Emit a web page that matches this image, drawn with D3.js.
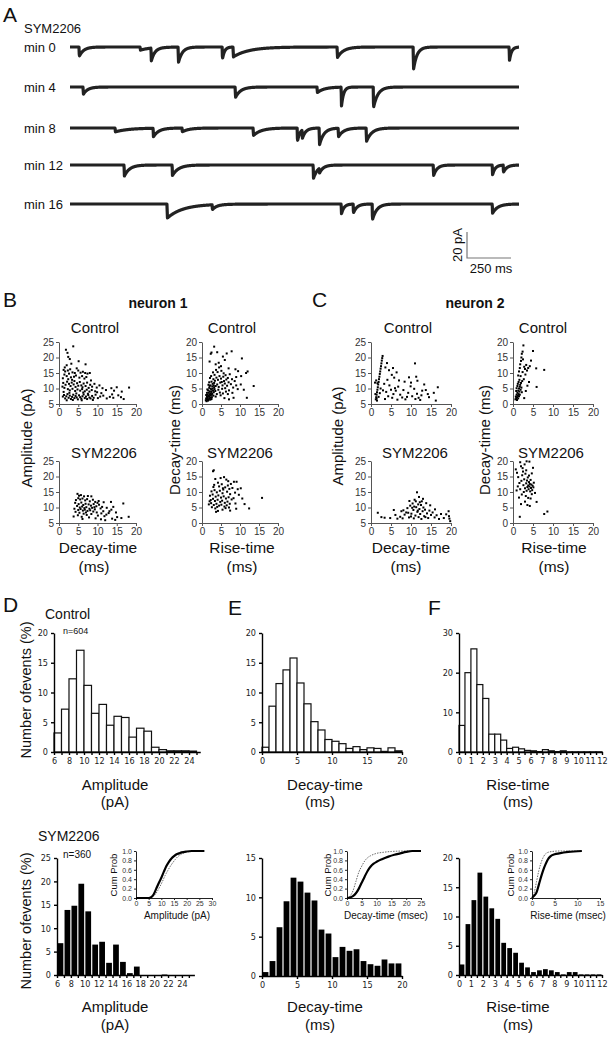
<!DOCTYPE html>
<html lang="en">
<head>
<meta charset="UTF-8">
<title>SYM2206 mEPSCs</title>
<script src="https://d3js.org/d3.v7.min.js"></script>
<style>
  body { margin: 0; background: #fff; }
  svg text { font-family: Arial, "Liberation Sans", sans-serif; fill: #111; }
  .sc .tick text { fill: #333; font-size: 10px; }
  .sc path.domain, .sc .tick line { stroke: #555; }
  .hs .tick text { fill: #222; font-size: 9px; font-family: "Liberation Sans Narrow", "DejaVu Sans Condensed", Arial, sans-serif; }
  .hs path.domain, .hs .tick line { stroke: #000; stroke-width: 1.4; }
  .in .tick text { fill: #333; font-size: 7px; }
  .in path.domain, .in .tick line { stroke: #222; }
</style>
</head>
<body>
<svg width="611" height="1050"></svg>
<script>
// ---------- data: panel A traces (event time ms, amplitude pA, decay tau ms)
var traceNames = ["min 0", "min 4", "min 8", "min 12", "min 16"];
var traceEvents = [
  [[51, 7.7, 25], [398, 2.5, 60], [460, 10.8, 20], [614, 13, 22], [864, 10.8, 12], [926, 7.7, 90], [1517, 8.5, 35], [1949, 19, 20], [2494, 12, 12]],
  [[74, 6, 25], [938, 8.5, 30], [1403, 4.5, 40], [1540, 17, 12], [1722, 17, 25]],
  [[256, 3, 80], [472, 7, 30], [636, 3, 40], [1040, 6, 45], [1290, 11.5, 15], [1318, 7, 20], [1415, 14, 25], [1523, 7, 30], [1682, 11, 30]],
  [[307, 9, 30], [580, 8.5, 35], [1381, 11, 25], [1415, 4, 20], [2063, 9, 20], [2398, 8.5, 15], [2460, 6, 20]],
  [[551, 11, 90], [807, 4, 25], [1540, 8.5, 15], [1608, 7.5, 20], [1716, 13, 25], [2398, 7.5, 30]]
];
var traceLength = 2550;

// ---------- data: panels B, C scatter (x, y)
var n1CtrlAmpDecay = [[1.8,22.5],[3.7,23.6],[2.2,21.5],[2.4,20.2],[2.8,19.5],[5.1,18.8],[6.9,17.8],[2.0,17.5],[3.2,18.0],[1.5,16.8],
  [1.2,16.0],[1.6,15.5],[2.3,15.8],[2.9,16.2],[3.5,15.2],[4.1,15.0],[4.6,16.5],[5.0,15.8],[5.6,15.1],[6.2,15.4],[6.8,15.0],[7.4,14.8],[8.0,15.0],[1.4,14.5],[2.0,14.0],[2.6,14.8],[3.1,13.6],[3.9,13.8],[4.4,14.2],[5.3,13.5],[6.0,14.0],[6.6,13.2],[7.1,13.7],[1.0,13.3],[2.4,13.0],[3.4,12.8],[8.3,12.6],
  [1.1,11.8],[1.7,11.2],[2.1,12.2],[2.6,11.5],[3.0,10.8],[3.3,11.9],[3.8,11.3],[4.0,12.4],[4.3,10.5],[4.7,11.7],[5.0,10.9],[5.4,12.1],[5.8,11.0],[6.1,10.4],[6.4,11.6],[6.9,10.8],[7.3,11.9],[7.7,10.2],[8.1,11.2],[8.6,10.6],[9.2,11.5],[9.8,10.3],[10.5,11.0],[11.3,10.1],[1.4,10.2],[2.3,9.8],[2.8,9.4],[3.5,9.9],[4.2,9.2],[4.8,9.7],[5.5,9.3],[6.0,9.8],[6.7,9.1],[7.2,9.6],[7.9,9.0],[8.5,9.5],[9.4,9.1],[12.2,9.5],[13.6,10.1],[15.0,10.4],[18.2,10.3],[14.3,9.3],[16.3,9.0],[0.9,10.6],
  [1.0,7.4],[1.3,7.9],[1.6,6.8],[1.9,7.5],[2.2,8.2],[2.5,7.0],[2.8,7.7],[3.1,6.6],[3.4,7.3],[3.7,8.0],[4.0,6.9],[4.3,7.6],[4.6,7.1],[4.9,6.5],[5.2,7.8],[5.5,7.2],[5.8,6.7],[6.1,7.5],[6.4,8.1],[6.7,6.9],[7.0,7.4],[7.3,6.6],[7.6,7.9],[7.9,7.1],[8.2,6.8],[8.6,7.6],[9.0,7.0],[9.5,8.0],[10.1,6.9],[10.7,7.4],[11.5,7.7],[12.4,6.8],[13.2,7.3],[14.1,7.0],[15.4,7.8],[16.1,7.2],[16.8,6.6],[13.8,8.1],[2.0,6.2],[3.6,6.3],[5.9,6.2],[8.8,6.3],
  [1.2,8.9],[2.7,8.6],[4.5,8.4],[6.3,8.7],[7.5,8.3],[9.9,8.8],[11.0,8.5]];
var n1CtrlDecayRise = [[1.0,1.2],[1.1,1.8],[1.2,0.9],[1.3,2.4],[1.4,1.5],[1.5,3.0],[1.5,2.0],[1.6,1.1],[1.7,2.7],[1.8,3.6],[1.9,1.7],[2.0,2.3],[2.0,4.1],[2.1,3.1],[2.2,1.4],[2.3,2.8],[2.4,3.9],[2.5,4.6],[2.6,2.2],[2.7,3.4],[2.8,5.0],[2.9,4.3],[3.0,2.7],[3.1,3.8],[3.2,5.4],[3.3,4.8],[1.1,2.9],[1.3,3.6],[1.6,4.4],[1.9,5.2],[1.2,1.6],[1.4,2.1],[1.7,1.3],[2.2,2.0],[2.5,1.6],[1.8,2.6],[2.3,3.3],[2.6,3.0],
  [2.2,6.0],[2.5,7.2],[2.8,6.5],[3.0,8.0],[3.2,6.8],[3.4,7.5],[3.6,5.8],[3.8,8.5],[4.0,6.3],[4.2,7.8],[4.4,5.5],[4.6,9.0],[4.8,6.9],[5.0,8.2],[5.2,7.1],[5.4,6.0],[5.6,8.8],[5.8,7.4],[6.0,6.6],[6.2,9.3],[6.4,7.9],[6.6,5.9],[6.8,8.4],[7.0,7.0],[7.3,9.6],[7.6,6.4],[7.9,8.0],[8.2,5.3],[8.6,7.4],[9.0,6.0],[9.4,4.8],[2.4,9.0],[2.9,10.2],[3.3,9.4],[3.7,11.0],[4.1,10.3],[4.5,11.8],[5.1,10.7],[5.7,9.9],[1.9,7.0],[2.1,8.4],[1.7,6.2],[3.5,4.2],[4.3,4.6],[5.3,4.9],[6.1,5.1],[3.9,3.2],[4.7,3.7],[5.5,3.4],[6.3,4.0],[7.1,4.4],[2.7,5.7],[3.1,6.0],[3.6,2.4],[4.9,2.8],[6.8,3.2],[8.0,3.6],[1.4,4.7],[2.0,5.8],[2.3,4.9],
  [2.0,13.7],[2.3,16.2],[2.5,16.6],[3.2,18.5],[3.6,12.8],[4.0,16.7],[4.4,13.3],[5.0,12.2],[6.5,16.3],[7.8,17.0],[6.0,14.2],[5.5,15.3],[7.0,11.5],[8.8,11.2],[10.5,14.7],[9.5,10.6],[11.6,10.0],[12.0,10.5],[10.3,9.0],[9.0,8.7],[13.6,5.8],[10.2,6.3],[11.0,4.6],[8.3,2.0],[11.8,2.0],[7.1,1.5],[5.9,1.9]];
var n1SymAmpDecay = [[4.8,14.4],[5.2,13.8],[5.7,14.0],[6.5,13.6],[7.5,13.7],[8.4,13.6],[5.0,13.0],[5.5,12.6],[6.1,12.9],[4.4,12.4],[6.8,12.3],[7.3,12.7],[8.0,12.0],[8.8,12.5],[9.4,11.8],[10.3,12.1],[11.6,11.7],[13.5,11.8],[16.7,11.3],[4.2,11.5],[5.1,11.1],[5.8,11.6],[6.3,10.8],[6.9,11.2],[7.7,11.0],[8.3,10.6],[9.0,11.1],[9.7,10.4],[10.4,10.9],[11.2,10.2],[4.7,10.5],[5.4,10.0],[6.0,10.3],[6.6,9.8],[7.1,10.1],[7.9,9.6],[8.6,9.9],[9.3,9.4],[10.8,9.7],[12.4,9.9],[14.1,10.2],[4.0,9.6],[5.0,9.2],[5.6,9.5],[6.2,9.0],[6.7,9.3],[7.4,8.9],[8.1,9.1],[8.9,8.7],[9.8,8.4],[11.5,8.8],[12.9,8.2],[13.6,9.3],[4.3,8.6],[5.3,8.3],[6.4,8.0],[7.2,7.6],[8.4,7.9],[10.1,7.4],[11.8,7.2],[3.8,7.1],[5.9,7.0],[7.8,6.8],[9.5,6.5],[10.9,6.2],[13.8,6.4],[15.1,6.9],[16.2,6.6],[18.1,7.0],[14.6,6.0],[12.0,5.9],[6.1,6.3],[4.9,7.5],[7.0,8.4],[9.2,10.1],[10.0,11.5],[12.3,7.7],[13.1,8.8],[14.8,8.4],[11.0,8.1]];
var n1SymDecayRise = [[2.9,16.7],[3.1,17.0],[5.8,14.8],[6.4,14.0],[3.5,14.2],[8.4,13.3],[9.1,13.3],[4.2,13.0],[5.2,12.5],[6.8,12.1],[7.6,12.6],[3.0,11.6],[4.5,11.8],[5.5,11.2],[6.1,11.5],[7.2,11.0],[8.0,11.3],[9.4,10.9],[10.2,11.2],[2.5,10.2],[3.3,10.6],[3.9,9.9],[4.7,10.4],[5.4,9.6],[6.6,10.1],[7.4,9.3],[8.7,9.8],[9.7,9.1],[2.1,8.8],[2.8,9.2],[3.6,8.5],[4.3,8.9],[5.0,8.2],[5.7,8.6],[6.3,7.9],[7.0,8.3],[7.8,7.6],[8.3,8.0],[2.3,7.4],[2.9,7.8],[3.4,7.1],[4.1,7.5],[4.8,6.8],[5.3,7.2],[6.0,6.5],[6.7,6.9],[7.3,6.2],[1.8,6.0],[2.4,6.4],[3.1,5.8],[3.8,6.2],[4.5,5.6],[5.1,5.9],[5.9,5.3],[6.5,5.7],[7.1,5.0],[2.6,5.1],[3.5,4.7],[4.2,3.9],[3.7,3.6],[5.4,4.3],[7.4,4.0],[9.0,4.6],[11.2,6.1],[12.4,4.7],[15.8,8.1],[10.6,7.9],[8.8,6.3],[2.0,7.0],[4.0,5.2],[6.2,4.8],[5.6,10.8],[3.2,12.3],[4.9,14.5],[6.9,13.5]];
var n2CtrlAmpDecay = [[1.2,6.5],[1.3,7.2],[1.4,8.0],[1.5,8.8],[1.6,9.6],[1.7,10.4],[1.8,11.3],[1.9,12.1],[2.0,13.0],[2.1,13.8],[2.2,14.7],[2.3,15.5],[2.4,16.4],[2.5,17.2],[2.6,18.1],[2.7,19.0],[2.8,19.8],[2.9,20.5],[1.0,11.9],[1.3,12.6],[1.6,11.7],[1.1,8.2],[1.4,6.8],[1.9,7.3],[2.2,8.5],[1.5,6.1],[2.4,10.0],
  [4.0,18.2],[3.6,16.8],[4.5,15.9],[5.5,16.6],[6.4,15.2],[5.2,14.4],[5.8,13.5],[4.1,12.8],[3.3,11.5],[4.6,11.0],[5.0,9.6],[3.8,8.9],[4.3,7.5],[3.5,6.6],[5.6,8.2],[6.2,9.3],[6.8,10.6],[7.3,8.0],[7.8,7.1],[6.6,6.4],[8.1,9.5],[8.6,6.5],[9.5,13.6],[9.3,8.6],[9.9,10.7],[10.3,7.5],[10.8,9.9],[11.0,18.1],[11.3,13.8],[11.6,12.5],[11.5,8.3],[11.9,7.0],[12.3,6.3],[11.1,6.6],[12.6,7.8],[13.3,11.3],[13.7,9.5],[14.5,7.2],[15.7,8.6],[16.2,6.1],[16.7,10.4],[10.0,11.9],[8.4,12.2],[7.0,12.6],[6.0,10.1],[5.3,7.0],[9.0,7.3],[12.8,9.3],[14.2,8.2],[3.0,9.4]];
var n2CtrlDecayRise = [[0.6,1.5],[0.7,2.4],[0.8,1.9],[0.9,3.0],[1.0,2.2],[1.0,1.3],[1.1,3.6],[1.2,2.7],[1.3,4.3],[1.3,1.8],[1.4,3.2],[1.5,5.0],[1.5,2.5],[1.6,4.0],[1.7,5.6],[1.7,3.0],[1.8,6.2],[1.9,4.6],[2.0,6.8],[0.8,4.2],[0.9,5.1],[1.1,5.8],[1.2,6.5],[1.4,7.1],[1.6,7.8],[2.1,5.3],[2.2,3.8],
  [1.3,9.2],[1.5,10.5],[1.7,11.6],[1.8,12.8],[2.0,13.9],[2.1,15.0],[2.2,16.2],[2.4,16.9],[2.6,18.9],[2.5,14.4],[2.8,12.0],[3.0,11.3],[3.3,12.6],[3.5,10.8],[3.8,11.6],[4.2,12.2],[3.1,9.5],[2.7,8.0],[2.3,7.4],[2.4,10.3],[1.9,9.0],[4.0,7.1],[3.6,5.9],[5.0,17.1],[5.8,11.5],[7.8,11.0],[5.9,5.5],[2.8,1.9],[3.2,4.2],[4.5,14.0]];
var n2SymAmpDecay = [[1.7,8.3],[2.6,6.9],[3.4,6.7],[5.7,9.2],[4.8,6.6],[6.6,6.4],[7.3,7.0],[7.9,6.5],[8.4,7.7],[8.8,8.4],[9.1,9.8],[9.5,6.8],[9.8,10.6],[10.1,8.0],[10.4,11.3],[10.6,9.2],[10.9,12.5],[11.1,7.4],[11.3,10.1],[11.5,14.9],[11.6,8.6],[11.8,11.0],[12.0,13.4],[12.1,9.5],[12.3,7.9],[12.5,10.8],[12.7,12.0],[12.9,8.8],[13.1,10.0],[13.3,7.2],[13.5,9.3],[13.8,11.4],[14.0,8.1],[14.3,6.6],[14.6,9.0],[15.0,7.6],[15.4,8.4],[15.9,6.8],[16.4,7.5],[17.0,6.3],[17.5,7.9],[18.2,6.6],[18.8,7.8],[19.4,8.8],[19.6,6.4],[19.8,5.6],[19.5,7.2],[9.3,8.3],[10.0,7.1],[10.7,6.5],[11.9,6.9],[12.6,6.3],[13.6,6.9],[8.1,9.1],[10.3,9.9],[11.2,12.0],[12.2,11.7],[13.0,12.8],[10.8,10.3],[11.7,9.0],[14.8,10.7],[16.0,9.4],[6.1,7.6],[7.6,8.8],[9.6,12.1]];
var n2SymDecayRise = [[0.7,17.3],[1.0,16.2],[1.3,14.8],[1.8,19.6],[2.0,18.3],[2.4,17.7],[2.9,18.9],[3.4,19.9],[4.1,19.8],[5.0,17.8],[1.6,12.9],[1.2,11.8],[0.9,10.5],[1.8,10.9],[2.1,13.6],[2.3,15.4],[2.6,12.2],[2.8,14.1],[3.0,11.2],[3.1,15.9],[3.3,12.8],[3.4,10.4],[3.5,13.7],[3.6,11.6],[3.7,14.7],[3.8,12.1],[3.9,10.9],[4.0,13.2],[4.1,11.8],[4.2,12.6],[4.3,10.2],[4.4,13.9],[4.5,11.3],[4.6,12.4],[4.8,10.6],[4.9,12.0],[5.1,11.5],[5.2,13.0],[2.7,10.0],[2.2,9.2],[3.2,8.7],[3.8,8.1],[4.4,7.9],[4.7,9.3],[5.5,9.7],[3.0,6.9],[2.0,6.1],[3.6,5.8],[4.2,5.5],[5.9,6.8],[1.7,2.0],[7.8,2.9],[8.6,3.7],[2.5,16.6],[4.7,16.0],[1.5,8.2],[3.3,17.0],[4.0,15.3]];

// ---------- data: histograms (% of events per bin)
var ampCtrl = [3.2, 7.2, 12.3, 17.1, 11.2, 6.5, 8.0, 4.5, 6.0, 5.8, 2.5, 4.0, 3.5, 0.8, 0.4, 0.2, 0.2, 0.2, 0.15];   // bins of 1 pA from 6
var ampSym  = [6.8, 13.9, 14.8, 19.5, 13.6, 6.5, 7.1, 2.6, 6.5, 2.8, 0.4, 1.8, 0, 0, 0, 0.1, 0, 0, 0];
var decayCtrl = [0.8, 7.7, 11.5, 13.8, 15.8, 11.6, 8.1, 5.1, 3.7, 2.1, 1.8, 1.4, 0.6, 0.9, 0.4, 0.7, 0.6, 0.1, 0.7, 0.2]; // 1 ms bins from 0
var decaySym  = [0.5, 1.9, 6.2, 9.5, 12.5, 12.0, 10.6, 9.6, 5.9, 5.4, 2.4, 3.7, 3.2, 3.4, 1.9, 1.5, 1.3, 2.1, 1.6, 1.6];
var riseCtrl = [6.7, 20, 26, 17, 13.5, 4.5, 4.5, 3.0, 0.9, 1.2, 0.8, 0.4, 0.3, 0.1, 0.6, 0.3, 0.1, 0.3, 0.05, 0.05, 0.05, 0.05, 0.05, 0.05]; // 0.5 ms bins from 0
var riseSym  = [1.8, 8.7, 12.8, 17.5, 13.4, 11.4, 9.6, 5.5, 4.6, 3.8, 2.1, 1.3, 0.5, 0.8, 1.0, 0.8, 0.5, 0.1, 0.5, 0.5, 0.1, 0.1, 0.1, 0.1];

// ---------- data: cumulative probability insets [value, cum prob]
var cumAmpSym  = [[0,0],[5,0],[6,0.02],[7,0.08],[8,0.2],[9,0.32],[10,0.43],[11,0.56],[12,0.68],[13,0.77],[14,0.84],[15,0.89],[16,0.93],[17,0.95],[18,0.97],[20,0.99],[22,1.0],[27,1.0]];
var cumAmpCtrl = [[5.5,0],[6.5,0.02],[7.5,0.07],[8.5,0.15],[9.5,0.25],[10.5,0.36],[11.5,0.48],[12.5,0.58],[13.5,0.67],[14.5,0.75],[15.5,0.82],[16.5,0.88],[17.5,0.92],[18.5,0.95],[20,0.98],[22,0.99],[25,1.0]];
var cumDecaySym  = [[0,0],[1,0.01],[2,0.04],[3,0.1],[4,0.2],[5,0.33],[6,0.46],[7,0.58],[8,0.67],[9,0.73],[10,0.77],[12,0.83],[14,0.88],[16,0.92],[18,0.95],[20,0.98],[22,1.0],[25,1.0]];
var cumDecayCtrl = [[0,0],[1,0.04],[2,0.15],[3,0.35],[4,0.55],[5,0.68],[6,0.79],[7,0.86],[8,0.9],[10,0.95],[12,0.97],[15,0.99],[20,1.0],[25,1.0]];
var cumRiseSym  = [[0,0],[0.5,0.05],[1,0.12],[1.5,0.28],[2,0.45],[2.5,0.6],[3,0.72],[3.5,0.82],[4,0.88],[5,0.93],[6,0.95],[8,0.98],[11,1.0]];
var cumRiseCtrl = [[0,0],[0.5,0.12],[1,0.35],[1.5,0.58],[2,0.75],[2.5,0.87],[3,0.94],[3.5,0.97],[4.5,0.99],[6,1.0],[11,1.0]];

var svg = d3.select("svg");

function label(x, y, txt, size, opts) {
  opts = opts || {};
  var t = svg.append("text")
      .attr("x", x).attr("y", y)
      .attr("font-size", size)
      .attr("text-anchor", opts.anchor || "start")
      .attr("font-weight", opts.bold ? "bold" : null)
      .text(txt);
  if (opts.rotate) t.attr("transform", "rotate(-90," + x + "," + y + ")");
  return t;
}

// ---------- panel A
label(3, 22, "A", 21);
label(24, 33, "SYM2206", 13);
var traceY = [47, 87, 128, 165, 204];
var xT = d3.scaleLinear().domain([0, traceLength]).range([70, 519]);

traceEvents.forEach(function(evs, i) {
  var yT = d3.scaleLinear().domain([0, -20]).range([traceY[i], traceY[i] + 26]);
  var samples = d3.range(0, traceLength + 1, 1.5).map(function(t) {
    var v = 0;
    evs.forEach(function(e) {
      if (t >= e[0]) v -= e[1] * Math.min(1, (t - e[0]) / 2) * Math.exp(-(t - e[0]) / e[2]);
    });
    return [t, v];
  });
  svg.append("path")
      .datum(samples)
      .attr("fill", "none")
      .attr("stroke", "#222")
      .attr("stroke-width", 3.2)
      .attr("stroke-linejoin", "round")
      .attr("d", d3.line().x(d => xT(d[0])).y(d => yT(d[1])));
  label(24, traceY[i] + 5, traceNames[i], 13);
});

// scale bar 20 pA / 250 ms
var sbY = d3.scaleLinear().domain([0, 20]).range([258, 232]);
var sbX0 = 467, sbX1 = sbX0 + (xT(250) - xT(0));
svg.append("path")
    .attr("d", "M" + sbX0 + "," + sbY(20) + "V" + sbY(0) + "H" + sbX1)
    .attr("fill", "none").attr("stroke", "#777").attr("stroke-width", 1.2);
label(462, 245, "20 pA", 13, {anchor: "middle", rotate: true});
label(491, 273, "250 ms", 13, {anchor: "middle"});

// ---------- panels B, C
function scatter(xr, yr, ydom, yticks, pts, title, tx, ty) {
  var x = d3.scaleLinear().domain([0, 20]).range(xr);
  var y = d3.scaleLinear().domain(ydom).range(yr);
  var g = svg.append("g").attr("class", "sc");
  g.append("g").attr("transform", "translate(0," + yr[0] + ")")
      .call(d3.axisBottom(x).tickValues([0, 5, 10, 15, 20]).tickSize(3).tickSizeOuter(0).tickPadding(2));
  g.append("g").attr("transform", "translate(" + xr[0] + ",0)")
      .call(d3.axisLeft(y).tickValues(yticks).tickSize(3).tickSizeOuter(0).tickPadding(2));
  g.selectAll("text").attr("font-family", "Arial, 'Liberation Sans', sans-serif");
  g.append("g").selectAll("rect").data(pts).enter().append("rect")
      .attr("x", d => x(d[0]) - 1).attr("y", d => y(d[1]) - 1)
      .attr("width", 2).attr("height", 2).attr("fill", "#000");
  label(tx, ty, title, 15, {anchor: "middle"});
}
var ampTicks = [5, 10, 15, 20, 25], decTicks = [0, 5, 10, 15, 20];

label(3, 307, "B", 21);
label(158, 308, "neuron 1", 14, {anchor: "middle", bold: true});
scatter([59, 136], [404, 342], [5, 25], ampTicks, n1CtrlAmpDecay, "Control", 95, 333);
scatter([202, 278], [404, 342], [0, 20], decTicks, n1CtrlDecayRise, "Control", 232, 333);
scatter([59, 136], [523, 461], [5, 25], ampTicks, n1SymAmpDecay, "SYM2206", 104, 458);
scatter([202, 278], [523, 461], [0, 20], decTicks, n1SymDecayRise, "SYM2206", 240, 458);
label(32, 438, "Amplitude (pA)", 15, {anchor: "middle", rotate: true});
label(180, 440, "Decay-time (ms)", 15, {anchor: "middle", rotate: true});
label(98, 553, "Decay-time", 15.5, {anchor: "middle"});
label(94, 572, "(ms)", 15.5, {anchor: "middle"});
label(242, 553, "Rise-time", 15.5, {anchor: "middle"});
label(242, 572, "(ms)", 15.5, {anchor: "middle"});

label(312, 307, "C", 21);
label(475, 308, "neuron 2", 14, {anchor: "middle", bold: true});
scatter([371, 451], [404, 342], [5, 25], ampTicks, n2CtrlAmpDecay, "Control", 408, 333);
scatter([513, 593], [404, 342], [0, 20], decTicks, n2CtrlDecayRise, "Control", 543, 333);
scatter([371, 451], [523, 461], [5, 25], ampTicks, n2SymAmpDecay, "SYM2206", 415, 458);
scatter([513, 593], [523, 461], [0, 20], decTicks, n2SymDecayRise, "SYM2206", 551, 458);
label(343, 436, "Amplitude (pA)", 15, {anchor: "middle", rotate: true});
label(490, 440, "Decay-time (ms)", 15, {anchor: "middle", rotate: true});
label(411, 553, "Decay-time", 15.5, {anchor: "middle"});
label(406, 572, "(ms)", 15.5, {anchor: "middle"});
label(554, 553, "Rise-time", 15.5, {anchor: "middle"});
label(554, 572, "(ms)", 15.5, {anchor: "middle"});

// ---------- panels D, E, F histograms
function hist(o) {
  var x = d3.scaleLinear().domain(o.xdom).range(o.xr);
  var y = d3.scaleLinear().domain([0, o.ymax]).range(o.yr);
  var g = svg.append("g").attr("class", "hs");
  g.append("g").selectAll("rect").data(o.values).enter().append("rect")
      .attr("x", (d, i) => x(o.start + i * o.bw) + (o.filled ? 0.6 : 0))
      .attr("width", x(o.start + o.bw) - x(o.start) - (o.filled ? 1.2 : 0))
      .attr("y", d => y(d))
      .attr("height", d => o.yr[0] - y(d))
      .attr("fill", o.filled ? "#000" : "#fff")
      .attr("stroke", o.filled ? "none" : "#111")
      .attr("stroke-width", 1.2);
  g.append("g").attr("transform", "translate(0," + o.yr[0] + ")")
      .call(d3.axisBottom(x).tickValues(o.xticks).tickSize(3).tickSizeOuter(0).tickPadding(3)
        .tickFormat(d => o.xlabels.indexOf(d) >= 0 ? d : ""));
  g.append("g").attr("transform", "translate(" + o.xr[0] + ",0)")
      .call(d3.axisLeft(y).tickValues(o.yticks).tickSize(3).tickSizeOuter(0).tickPadding(3));
}

function inset(o) {
  var x = d3.scaleLinear().domain(o.xdom).range(o.xr);
  var y = d3.scaleLinear().domain([0, 1]).range([898, 851]);
  var g = svg.append("g").attr("class", "in");
  g.append("g").attr("transform", "translate(0,898)")
      .call(d3.axisBottom(x).tickValues(o.xticks).tickSize(2).tickSizeOuter(0).tickPadding(1));
  g.append("g").attr("transform", "translate(" + o.xr[0] + ",0)")
      .call(d3.axisLeft(y).tickValues([0, 0.2, 0.4, 0.6, 0.8, 1.0]).tickSize(2).tickSizeOuter(0).tickPadding(2)
        .tickFormat(d3.format(".1f")));
  var line = d3.line().x(d => x(d[0])).y(d => y(d[1])).curve(d3.curveMonotoneX);
  g.append("path").datum(o.ctrl).attr("d", line).attr("fill", "none")
      .attr("stroke", "#444").attr("stroke-width", 0.8).attr("stroke-dasharray", "1.5,1.2");
  g.append("path").datum(o.sym).attr("d", line).attr("fill", "none")
      .attr("stroke", "#000").attr("stroke-width", 2.2);
  label(o.cpx, 875, "Cum Prob", 9.5, {anchor: "middle", rotate: true});
  label(o.tx, 919, o.title, 10, {anchor: "middle"});
}

var histLabel = "Number ofevents (%)";
label(3, 612, "D", 21);
label(45, 619, "Control", 14);
label(63, 634, "n=604", 9);
label(31, 690, histLabel, 14.5, {anchor: "middle", rotate: true});
hist({xdom: [6, 25.5], xr: [54, 200.25], yr: [752, 633], ymax: 20, values: ampCtrl, start: 6, bw: 1,
      xticks: d3.range(6, 26, 1), xlabels: [6, 8, 10, 12, 14, 16, 18, 20, 22, 24], yticks: [0, 5, 10, 15, 20], filled: false});
label(115, 790, "Amplitude", 15, {anchor: "middle"});
label(115, 807, "(pA)", 15, {anchor: "middle"});

label(228, 615, "E", 21);
hist({xdom: [0, 20], xr: [262, 402], yr: [752, 633], ymax: 20, values: decayCtrl, start: 0, bw: 1,
      xticks: [0, 5, 10, 15, 20], xlabels: [0, 5, 10, 15, 20], yticks: [0, 5, 10, 15, 20], filled: false});
label(325, 790, "Decay-time", 15, {anchor: "middle"});
label(320, 807, "(ms)", 15, {anchor: "middle"});

label(428, 615, "F", 21);
hist({xdom: [0, 12], xr: [459, 602], yr: [752, 633], ymax: 30, values: riseCtrl, start: 0, bw: 0.5,
      xticks: d3.range(0, 12.5, 0.5), xlabels: d3.range(0, 13, 1), yticks: [0, 10, 20, 30], filled: false});
label(518, 790, "Rise-time", 15, {anchor: "middle"});
label(518, 807, "(ms)", 15, {anchor: "middle"});

// bottom row: SYM2206
label(38, 841, "SYM2206", 14);
label(63, 858, "n=360", 10);
label(31, 921, histLabel, 14.5, {anchor: "middle", rotate: true});
hist({xdom: [6, 25.8], xr: [57, 194.4], yr: [975, 858], ymax: 25, values: ampSym, start: 6, bw: 1,
      xticks: d3.range(6, 26, 1), xlabels: [6, 8, 10, 12, 14, 16, 18, 20, 22, 24], yticks: [0, 5, 10, 15, 20, 25], filled: true});
label(115, 1012, "Amplitude", 15, {anchor: "middle"});
label(115, 1030, "(pA)", 15, {anchor: "middle"});
inset({xdom: [0, 30], xr: [136, 212], xticks: [0, 5, 10, 15, 20, 25, 30], sym: cumAmpSym, ctrl: cumAmpCtrl,
       cpx: 117, tx: 177, title: "Amplitude (pA)"});

hist({xdom: [0, 20], xr: [262, 402], yr: [976, 858], ymax: 15, values: decaySym, start: 0, bw: 1,
      xticks: [0, 5, 10, 15, 20], xlabels: [0, 5, 10, 15, 20], yticks: [0, 5, 10, 15], filled: true});
label(325, 1012, "Decay-time", 15, {anchor: "middle"});
label(320, 1030, "(ms)", 15, {anchor: "middle"});
inset({xdom: [0, 25], xr: [347, 421], xticks: [0, 5, 10, 15, 20, 25], sym: cumDecaySym, ctrl: cumDecayCtrl,
       cpx: 331, tx: 386, title: "Decay-time (msec)"});

hist({xdom: [0, 12], xr: [459, 602], yr: [975, 858], ymax: 20, values: riseSym, start: 0, bw: 0.5,
      xticks: d3.range(0, 12.5, 0.5), xlabels: d3.range(0, 13, 1), yticks: [0, 5, 10, 15, 20], filled: true});
label(518, 1012, "Rise-time", 15, {anchor: "middle"});
label(518, 1030, "(ms)", 15, {anchor: "middle"});
inset({xdom: [0, 15], xr: [532, 600], xticks: [0, 5, 10, 15], sym: cumRiseSym, ctrl: cumRiseCtrl,
       cpx: 514, tx: 568, title: "Rise-time (msec)"});
</script>
</body>
</html>
